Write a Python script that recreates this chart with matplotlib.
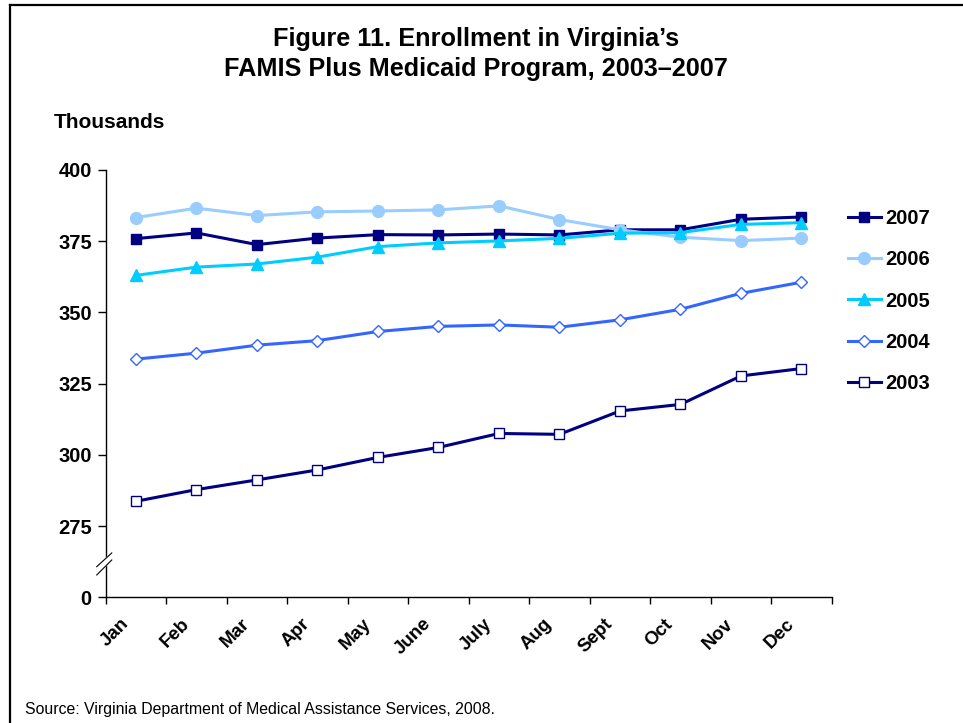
import matplotlib
matplotlib.use("Agg")
import matplotlib.pyplot as plt
import matplotlib.transforms as mtransforms
from matplotlib.lines import Line2D
import numpy as np

# データ (単位: 千人)
months = ["Jan", "Feb", "Mar", "Apr", "May", "June",
          "July", "Aug", "Sept", "Oct", "Nov", "Dec"]
y2007 = [375.9, 377.9, 373.8, 376.1, 377.3, 377.2, 377.5, 377.2, 379.0, 379.0, 382.7, 383.5]
y2006 = [383.3, 386.6, 384.0, 385.3, 385.6, 386.0, 387.4, 382.6, 379.0, 376.4, 375.2, 376.1]
y2005 = [363.0, 365.9, 367.0, 369.4, 373.1, 374.4, 375.1, 376.0, 377.8, 378.0, 380.9, 381.5]
y2004 = [333.6, 335.7, 338.5, 340.1, 343.3, 345.1, 345.6, 344.8, 347.4, 351.1, 356.7, 360.6]
y2003 = [283.7, 287.8, 291.2, 294.7, 299.1, 302.6, 307.5, 307.2, 315.4, 317.7, 327.7, 330.3]
ytick_values = [250, 275, 300, 325, 350, 375, 400]
ytick_labels = ["0", "275", "300", "325", "350", "375", "400"]

plt.rcParams['font.family'] = ['Liberation Sans', 'DejaVu Sans']

fig = plt.figure(figsize=(9.63, 7.23), dpi=100)
ax = fig.add_axes([0.1098, 0.1739, 0.7539, 0.5910])

x = np.arange(len(months))
navy = "#000080"
# 系列ごとの描画
ax.plot(x, y2007, color=navy, lw=2.2, marker="s", ms=7, mfc=navy, mec=navy, label="2007")
ax.plot(x, y2006, color="#99CCFF", lw=2.2, marker="o", ms=8.5, mfc="#99CCFF", mec="#99CCFF", label="2006")
ax.plot(x, y2005, color="#00CCFF", lw=2.2, marker="^", ms=8, mfc="#00CCFF", mec="#00CCFF", label="2005")
ax.plot(x, y2004, color="#3366FF", lw=2.2, marker="D", ms=6.5, mfc="white", mec="#3366FF", mew=1.0, label="2004")
ax.plot(x, y2003, color=navy, lw=2.2, marker="s", ms=7, mfc="white", mec=navy, mew=1.0, label="2003")

ax.set_xlim(-0.5, len(months) - 0.5)
ax.set_ylim(250, 400)
ax.set_yticks(ytick_values)
ax.set_yticklabels(ytick_labels, fontsize=14.5, fontweight="bold")
ax.tick_params(axis="y", direction="out", length=6, width=1, pad=4)

# x軸: 目盛りは区切り、ラベルは中央
ax.set_xticks(np.arange(-0.5, len(months), 1.0))
ax.set_xticklabels([])
ax.tick_params(axis="x", which="major", direction="out", length=5, width=1)
ax.set_xticks(x, minor=True)
ax.set_xticklabels(months, minor=True, fontsize=13.5, fontweight="bold",
                   rotation=45, ha="right", va="top", rotation_mode="anchor")
ax.tick_params(axis="x", which="minor", length=0, pad=13)
offset = mtransforms.ScaledTranslation(-16 / 100, 0, fig.dpi_scale_trans)
for lab in ax.get_xticklabels(minor=True):
    lab.set_transform(lab.get_transform() + offset)

for s in ["top", "right"]:
    ax.spines[s].set_visible(False)
for s in ["left", "bottom"]:
    ax.spines[s].set_linewidth(1.0)
    ax.spines[s].set_color("black")

# 軸の省略記号
ax.fill([-0.0124, 0.0083, 0.0083, -0.0124], [0.0716, 0.1037, 0.0873, 0.0522],
        color="white", transform=ax.transAxes, clip_on=False, zorder=5)
ax.plot([-0.0124, 0.0083], [0.0716, 0.1037], color="black", lw=0.8,
        transform=ax.transAxes, clip_on=False, zorder=6)
ax.plot([-0.0124, 0.0083], [0.0522, 0.0873], color="black", lw=0.8,
        transform=ax.transAxes, clip_on=False, zorder=6)

ax.legend(loc="upper left", bbox_to_anchor=(1.011, 0.927), frameon=False,
          prop={"size": 14.5, "weight": "bold"}, handlelength=1.65,
          handletextpad=0.2, labelspacing=1.1, borderaxespad=0)

fig.text(0.494, 0.9627, "Figure 11. Enrollment in Virginia\u2019s\nFAMIS Plus Medicaid Program, 2003\u20132007",
         ha="center", va="top", fontsize=18.2, fontweight="bold", linespacing=1.33)
fig.text(0.056, 0.823, "Thousands", fontsize=15, fontweight="bold", va="baseline")
fig.text(0.026, 0.013, "Source: Virginia Department of Medical Assistance Services, 2008.",
         fontsize=11.4, va="baseline")

# 外枠 (左と上のみ)
fig.add_artist(Line2D([0.0099, 0.0099], [0, 0.9924], color="black", lw=1.6, transform=fig.transFigure))
fig.add_artist(Line2D([0.0099, 1.0], [0.9924, 0.9924], color="black", lw=1.6, transform=fig.transFigure))

plt.savefig("out.png", dpi=100)
